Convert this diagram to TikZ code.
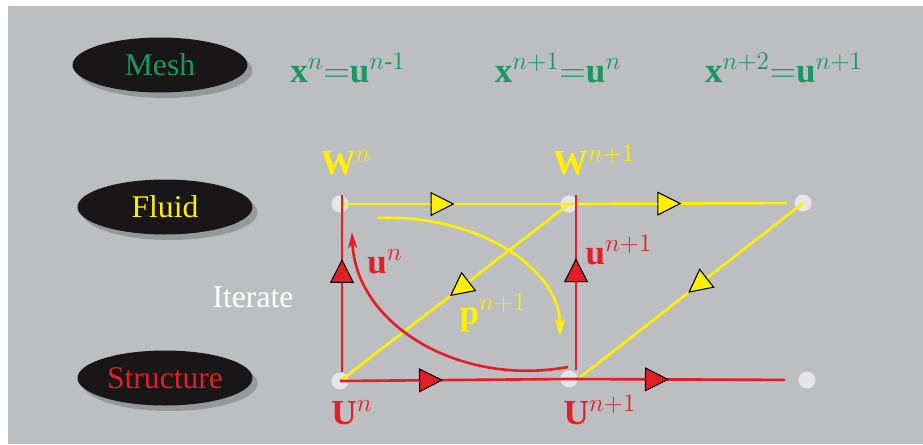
\documentclass[tikz,border=0pt]{standalone}
\usepackage{amsmath}
\usepackage{fontspec}
\setmainfont{Liberation Serif}
\usepackage{tikz}
\usetikzlibrary{positioning,arrows.meta,shapes.geometric,decorations.markings,shadows}
\usepackage{xcolor}
\definecolor{bgGray}{RGB}{189,190,194}
\definecolor{blobBlack}{RGB}{24,22,23}
\definecolor{dotGray}{RGB}{230,230,234}
\definecolor{meshGreen}{RGB}{28,150,100}
\definecolor{fluidYellow}{RGB}{255,240,0}
\definecolor{structRed}{RGB}{228,30,38}

\tikzset{
    yTri/.tip={Triangle[length=0.48cm, width=0.48cm, fill=fluidYellow, color=black, line width=0.6pt]},
    rTri/.tip={Triangle[length=0.48cm, width=0.48cm, fill=structRed, color=black, line width=0.6pt]}
}

\begin{document}
\begin{tikzpicture}[
    x=0.02cm, y=-0.02cm,
    every node/.style={font=\fontsize{18}{20}\selectfont},
    blobStyle/.style={ellipse, fill=blobBlack, minimum width=3.5cm, minimum height=1.1cm, inner sep=0pt,
        drop shadow={shadow xshift=0.1cm, shadow yshift=-0.11cm, fill=black, opacity=0.2}},
    dotStyle/.style={circle, fill=dotGray, minimum size=0.34cm, inner sep=0pt},
    mathLabel/.style={font=\fontsize{20}{22}\selectfont, inner sep=0pt},
    fluidLine/.style={line width=1.5pt, draw=fluidYellow},
    structLine/.style={line width=1.5pt, draw=structRed},
    yMid/.style={postaction=decorate, decoration={markings, mark=at position #1 with {\arrow{yTri}}}},
    rMid/.style={postaction=decorate, decoration={markings, mark=at position #1 with {\arrow{rTri}}}}
]
    % Sfondo
    \fill[white] (0,0) rectangle (923,444);
    \fill[bgGray] (8,6) rectangle (923,444);
    \useasboundingbox (0,0) rectangle (923,444);

    % Etichette dei tre campi
    \node[blobStyle, text=meshGreen] (mesh) at (160,65) {Mesh};
    \node[blobStyle, text=fluidYellow] (fluid) at (165,207) {Fluid};
    \node[blobStyle, text=structRed] (structure) at (165,378) {Structure};
    \node[text=white] (iterate) at (253,297) {Iterate};

    % Aggiornamento della mesh
    \node[mathLabel, text=meshGreen] (eqA) at (348,68) {$\mathbf{x}^{n}{=}\mathbf{u}^{n\text{-}1}$};
    \node[mathLabel, text=meshGreen] (eqB) at (558,68) {$\mathbf{x}^{n+1}{=}\mathbf{u}^{n}$};
    \node[mathLabel, text=meshGreen] (eqC) at (784,68) {$\mathbf{x}^{n+2}{=}\mathbf{u}^{n+1}$};

    % Istanti temporali
    \node[dotStyle] (wA) at (340,204) {};
    \node[dotStyle] (wB) at (569,204) {};
    \node[dotStyle] (wC) at (803,203) {};
    \node[dotStyle] (uA) at (340,381) {};
    \node[dotStyle] (uB) at (569,379) {};
    \node[dotStyle] (uC) at (807,380) {};

    % Avanzamento del fluido
    \draw[fluidLine, yMid=0.5] (wA.center) -- (wB.center);
    \draw[fluidLine, yMid=0.48, shorten >=0.32cm] (wB.center) -- (wC.center);
    \draw[fluidLine, yMid=0.52] (wB.center) -- (uA.center);
    \draw[fluidLine, yMid=0.51] (wC.center) -- (uB.east);

    % Avanzamento della struttura
    \draw[structLine, rMid=0.45] (uA.center) -- (uB.center);
    \draw[structLine, rMid=0.42, shorten >=0.44cm] (uB.center) -- (uC.center);
    \draw[structLine, rMid=0.64] ([xshift=0.04cm]uA.north) -- ([xshift=0.04cm]wA.north);
    \draw[structLine, rMid=0.64] ([xshift=0.14cm]uB.north) -- ([xshift=0.14cm]wB.north);

    % Frecce curve dell'iterazione
    \coordinate (pStart) at (378,218);
    \coordinate (pEnd) at (560,336);
    \draw[fluidLine, -{Stealth[length=0.34cm, width=0.2cm, inset=0.08cm]}] (pStart) .. controls (480,214) and (560,270) .. (pEnd);
    \coordinate (uStart) at (568,367);
    \coordinate (uEnd) at (352,232);
    \draw[structLine, -{Stealth[length=0.32cm, width=0.18cm, inset=0.08cm]}] (uStart) .. controls (460,387) and (356,325) .. (uEnd);

    % Etichette delle variabili
    \node[mathLabel, text=fluidYellow] (wLabA) at (346,163) {$\mathbf{W}^{n}$};
    \node[mathLabel, text=fluidYellow] (wLabB) at (594,160) {$\mathbf{W}^{n+1}$};
    \node[mathLabel, text=structRed] (uLabA) at (352,413) {$\mathbf{U}^{n}$};
    \node[mathLabel, text=structRed] (uLabB) at (600,410) {$\mathbf{U}^{n+1}$};
    \node[mathLabel, text=structRed] (dispA) at (385,262) {$\mathbf{u}^{n}$};
    \node[mathLabel, text=structRed] (dispB) at (619,250) {$\mathbf{u}^{n+1}$};
    \node[mathLabel, text=fluidYellow] (press) at (493,313) {$\mathbf{p}^{n+1}$};
\end{tikzpicture}
\end{document}
